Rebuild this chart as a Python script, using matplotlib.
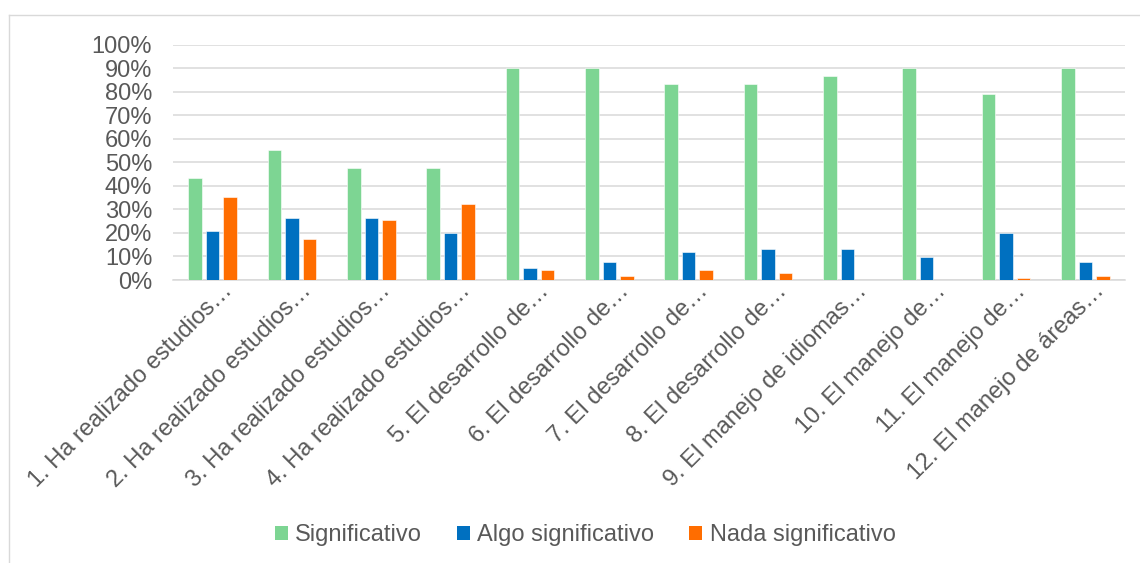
import matplotlib.pyplot as plt
from matplotlib.lines import Line2D
from matplotlib.patches import Patch
from matplotlib.transforms import ScaledTranslation
import numpy as np

plt.rcParams['font.family'] = ['Liberation Sans', 'DejaVu Sans']

# Datos
categorias = [
    '1. Ha realizado estudios…',
    '2. Ha realizado estudios…',
    '3. Ha realizado estudios…',
    '4. Ha realizado estudios…',
    '5. El desarrollo de…',
    '6. El desarrollo de…',
    '7. El desarrollo de…',
    '8. El desarrollo de…',
    '9. El manejo de idiomas…',
    '10. El manejo de…',
    '11. El manejo de…',
    '12. El manejo de áreas…',
]
significativo = [0.432, 0.554, 0.477, 0.477, 0.90, 0.90, 0.834, 0.834, 0.867, 0.90, 0.789, 0.90]
algo_significativo = [0.209, 0.264, 0.264, 0.199, 0.052, 0.077, 0.121, 0.132, 0.132, 0.096, 0.199, 0.077]
nada_significativo = [0.354, 0.176, 0.254, 0.321, 0.043, 0.018, 0.043, 0.031, 0.0, 0.0, 0.010, 0.018]

series = ['Significativo', 'Algo significativo', 'Nada significativo']
colores = ['#7DD593', '#0070C0', '#FF6D00']
gris = '#595959'

fig = plt.figure(figsize=(11.4, 5.63), dpi=100)
ax = fig.add_axes([173 / 1140, 1 - 280 / 563, (1125 - 173) / 1140, (280 - 44.7) / 563])

x = np.arange(len(categorias))
ancho = 0.17
paso = 0.22
for k, (vals, col) in enumerate(zip([significativo, algo_significativo, nada_significativo], colores)):
    ax.bar(x + (k - 1) * paso, vals, width=ancho, color=col, edgecolor='white', linewidth=0.4, zorder=3)

ax.set_xlim(-0.5, len(categorias) - 0.5)
ax.set_ylim(0, 1.0)
ax.set_yticks(np.arange(0, 1.01, 0.1))
ax.set_yticklabels([f'{int(round(v * 100))}%' for v in np.arange(0, 1.01, 0.1)])
ax.grid(axis='y', color='#D9D9D9', linewidth=1.1, zorder=0)
for s in ['top', 'right', 'left']:
    ax.spines[s].set_visible(False)
ax.spines['bottom'].set_color('#D9D9D9')
ax.spines['bottom'].set_linewidth(1.1)
ax.tick_params(axis='y', length=0, pad=15, labelsize=17, labelcolor=gris)
ax.tick_params(axis='x', length=0, pad=0, labelsize=17, labelcolor=gris)

ax.set_xticks(x)
ax.set_xticklabels(categorias, rotation=45, ha='right', va='center', rotation_mode='anchor')
desplaza = ScaledTranslation(0.16, -0.08, fig.dpi_scale_trans)
for lab in ax.get_xticklabels():
    lab.set_transform(lab.get_transform() + desplaza)

handles = [Patch(facecolor=c, edgecolor='none') for c in colores]
fig.legend(handles, series, loc='center', bbox_to_anchor=(585 / 1140, 1 - 535 / 563), ncol=3,
           frameon=False, fontsize=17, labelcolor=gris, handlelength=0.55, handleheight=0.55,
           handletextpad=0.3, columnspacing=1.5)

# borde del área del gráfico
fig.add_artist(Line2D([9 / 1140, 9 / 1140], [0, 1 - 15 / 563], color='#D9D9D9', linewidth=1))
fig.add_artist(Line2D([9 / 1140, 1], [1 - 15 / 563, 1 - 15 / 563], color='#D9D9D9', linewidth=1))

fig.savefig('out.png', dpi=100)
